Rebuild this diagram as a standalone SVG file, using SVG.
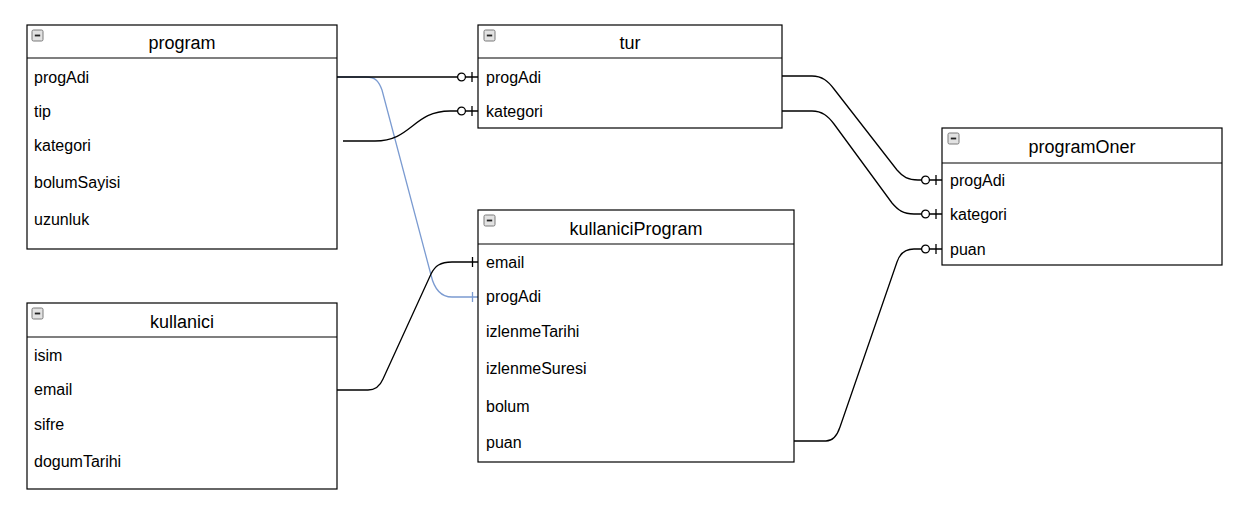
<svg xmlns="http://www.w3.org/2000/svg" width="1248" height="506" viewBox="0 0 1248 506">
<style>
.box{fill:#fff;stroke:#000;stroke-width:1.2}
.sep{stroke:#000;stroke-width:1.2}
.hdr{font-family:"Liberation Sans",Arial,sans-serif;font-size:18px;fill:#000;text-anchor:middle}
.row{font-family:"Liberation Sans",Arial,sans-serif;font-size:16px;fill:#000}
.icon{fill:#e2e2e2;stroke:#7a7a7a;stroke-width:1}
.dash{stroke:#222;stroke-width:1.8}
.edge{fill:none;stroke:#000;stroke-width:1.3}
.edge.blue{stroke:#7b9bd1}
</style>
<defs>
<marker id="zeroOne" markerUnits="userSpaceOnUse" markerWidth="22" markerHeight="14" refX="20" refY="7" orient="auto" overflow="visible">
<circle cx="3.5" cy="7" r="3.9" fill="#fff" stroke="#000" stroke-width="1.3"/>
<path d="M14,2 V12" stroke="#000" stroke-width="1.3"/>
</marker>
<marker id="one" markerUnits="userSpaceOnUse" markerWidth="22" markerHeight="14" refX="20" refY="7" orient="auto" overflow="visible">
<path d="M14.5,2 V12" stroke="#000" stroke-width="1.3"/>
</marker>
<marker id="oneBlue" markerUnits="userSpaceOnUse" markerWidth="22" markerHeight="14" refX="20" refY="7" orient="auto" overflow="visible">
<path d="M14.5,2 V12" stroke="#7b9bd1" stroke-width="1.3"/>
</marker>
<g id="minus"><rect class="icon" x="0" y="0" width="11" height="11" rx="1.5"/><path class="dash" d="M2.8,5.5 H8.2"/></g>
</defs>
<rect width="1248" height="506" fill="#fff"/>

<g id="connectors">
<path class="edge blue" d="M337,77 L366,77 C376,77 379,82 382,90 L431,275 C434,288 440,297 452,297 L478,297" marker-end="url(#oneBlue)"/>
<path class="edge" d="M337,77 L478,77" marker-end="url(#zeroOne)"/>
<path class="edge" d="M343,141 L375,141 C412,141 413,111 450,111 L478,111" marker-end="url(#zeroOne)"/>
<path class="edge" d="M337,390 L368,390 C376,390 380,386 383,379 L431,274 C435,266 440,262 452,262 L478,262" marker-end="url(#one)"/>
<path class="edge" d="M782,76 L812,76 C822,76 828,81 834,89 L897,170 C903,177 908,180 918,180 L942,180" marker-end="url(#zeroOne)"/>
<path class="edge" d="M782,111 L812,111 C822,111 828,116 834,124 L892,203 C898,210 903,214 914,214 L942,214" marker-end="url(#zeroOne)"/>
<path class="edge" d="M794,441 L826,441 C833,441 837,436 840,427 L897,262 C900,253 905,249 914,249 L942,249" marker-end="url(#zeroOne)"/>
</g>

<g id="program">
<rect class="box" x="27" y="25" width="310" height="224"/>
<line class="sep" x1="27" y1="58" x2="337" y2="58"/>
<use href="#minus" x="32" y="30"/>
<text class="hdr" x="182" y="49">program</text>
<text class="row" x="34" y="82.5">progAdi</text>
<text class="row" x="34" y="116.5">tip</text>
<text class="row" x="34" y="150.5">kategori</text>
<text class="row" x="34" y="188">bolumSayisi</text>
<text class="row" x="34" y="225">uzunluk</text>
</g>

<g id="tur">
<rect class="box" x="478" y="25" width="304" height="103"/>
<line class="sep" x1="478" y1="58" x2="782" y2="58"/>
<use href="#minus" x="484" y="30"/>
<text class="hdr" x="630" y="49">tur</text>
<text class="row" x="486" y="82.5">progAdi</text>
<text class="row" x="486" y="116.5">kategori</text>
</g>

<g id="kullaniciProgram">
<rect class="box" x="478" y="210" width="316" height="252"/>
<line class="sep" x1="478" y1="244" x2="794" y2="244"/>
<use href="#minus" x="484" y="215"/>
<text class="hdr" x="636" y="235">kullaniciProgram</text>
<text class="row" x="486" y="267.5">email</text>
<text class="row" x="486" y="301.5">progAdi</text>
<text class="row" x="486" y="336.5">izlenmeTarihi</text>
<text class="row" x="486" y="374">izlenmeSuresi</text>
<text class="row" x="486" y="411.5">bolum</text>
<text class="row" x="486" y="448">puan</text>
</g>

<g id="kullanici">
<rect class="box" x="27" y="303" width="310" height="186"/>
<line class="sep" x1="27" y1="337" x2="337" y2="337"/>
<use href="#minus" x="32" y="308"/>
<text class="hdr" x="182" y="327.5">kullanici</text>
<text class="row" x="34" y="361">isim</text>
<text class="row" x="34" y="395">email</text>
<text class="row" x="34" y="430">sifre</text>
<text class="row" x="34" y="466.5">dogumTarihi</text>
</g>

<g id="programOner">
<rect class="box" x="942" y="128" width="280" height="137"/>
<line class="sep" x1="942" y1="163" x2="1222" y2="163"/>
<use href="#minus" x="948" y="133"/>
<text class="hdr" x="1082" y="152.5">programOner</text>
<text class="row" x="950" y="186">progAdi</text>
<text class="row" x="950" y="220">kategori</text>
<text class="row" x="950" y="255">puan</text>
</g>
</svg>
